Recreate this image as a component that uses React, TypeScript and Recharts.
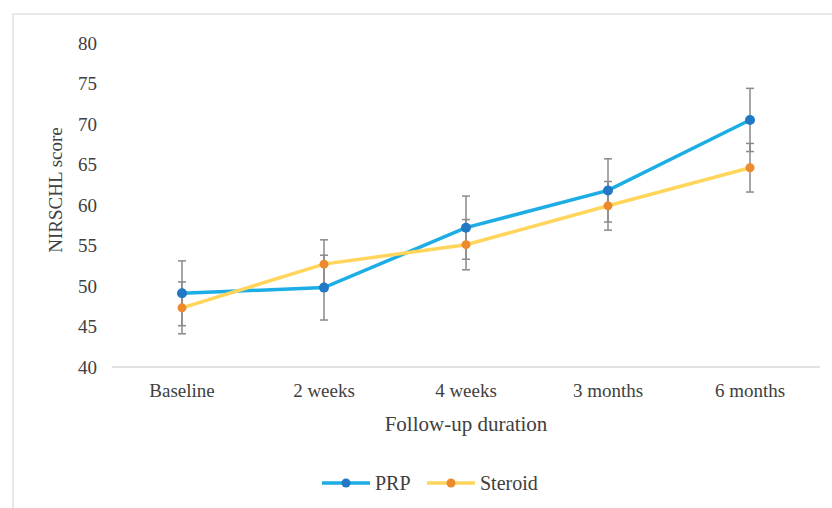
import React from "react";
import { LineChart, Line, XAxis, YAxis, ErrorBar, Legend } from "recharts";

const categories = ["Baseline", "2 weeks", "4 weeks", "3 months", "6 months"];
const prpValues = [49.1, 49.8, 57.2, 61.8, 70.5];
const prpErrors = [4.0, 4.0, 3.9, 3.9, 3.9];
const steroidValues = [47.3, 52.7, 55.1, 59.9, 64.6];
const steroidErrors = [3.2, 3.0, 3.1, 3.0, 3.0];
const yTicks = [40, 45, 50, 55, 60, 65, 70, 75, 80];
const seriesNames = ["PRP", "Steroid"];

const data = categories.map((c, i) => ({
  name: c,
  prp: prpValues[i],
  prpErr: prpErrors[i],
  steroid: steroidValues[i],
  steroidErr: steroidErrors[i],
}));

const FONT = "Liberation Serif, Times New Roman, serif";
const TEXT = "#404040";
const PRP_LINE = "#1CADE4";
const PRP_DOT = "#2178C4";
const STE_LINE = "#FFD55C";
const STE_DOT = "#EE8A2E";
const ERR = "#8A8A8A";

const LegendContent = () => {
  const items = [
    { label: seriesNames[0], line: PRP_LINE, dot: PRP_DOT, x: 322, tx: 375 },
    { label: seriesNames[1], line: STE_LINE, dot: STE_DOT, x: 427, tx: 480 },
  ];
  return (
    <svg width={832} height={26} style={{ display: "block" }}>
      {items.map((it) => (
        <g key={it.label}>
          <line x1={it.x} y1={13} x2={it.x + 48} y2={13} stroke={it.line} strokeWidth={3.5} />
          <circle cx={it.x + 24} cy={13} r={4.5} fill={it.dot} />
          <text x={it.tx} y={13} dy="0.35em" fontFamily={FONT} fontSize={20} fill={TEXT}>
            {it.label}
          </text>
        </g>
      ))}
    </svg>
  );
};

export default function App() {
  return (
    <div style={{ position: "absolute", left: 0, top: 0, width: 832, height: 508, background: "#fff" }}>
      <div
        style={{
          position: "absolute",
          left: 12,
          top: 13,
          width: 820,
          height: 495,
          borderTop: "2px solid #e8e8e8",
          borderLeft: "2px solid #e8e8e8",
          boxSizing: "border-box",
        }}
      />
      <LineChart
        width={832}
        height={508}
        data={data}
        margin={{ top: 43, right: 12, bottom: 12, left: 0 }}
        style={{ position: "absolute", left: 0, top: 0 }}
      >
        <XAxis
          dataKey="name"
          padding={{ left: 70, right: 70 }}
          height={103}
          axisLine={{ stroke: "#d9d9d9", strokeWidth: 1.5 }}
          tickLine={false}
          tickSize={6}
          tickMargin={11}
          tick={{ fontFamily: FONT, fontSize: 19, fill: TEXT }}
          label={{
            value: "Follow-up duration",
            position: "insideBottom",
            offset: 39,
            style: { fontFamily: FONT, fontSize: 21, fill: TEXT },
          }}
        />
        <YAxis
          domain={[40, 80]}
          ticks={yTicks}
          width={112}
          axisLine={false}
          tickLine={false}
          tickSize={6}
          tickMargin={9}
          tick={{ fontFamily: FONT, fontSize: 19, fill: TEXT }}
          label={{
            value: "NIRSCHL score",
            angle: -90,
            position: "insideLeft",
            offset: 55,
            dy: -15,
            style: { fontFamily: FONT, fontSize: 19, fill: TEXT, textAnchor: "middle" },
          }}
        />
        <Legend
          verticalAlign="bottom"
          height={26}
          wrapperStyle={{ left: 0, width: 832 }}
          content={<LegendContent />}
        />
        <Line
          type="linear"
          dataKey="prp"
          name={seriesNames[0]}
          stroke={PRP_LINE}
          strokeWidth={3.5}
          dot={{ r: 5, fill: PRP_DOT, stroke: PRP_DOT, strokeWidth: 0 }}
          isAnimationActive={false}
        >
          <ErrorBar dataKey="prpErr" width={4} stroke={ERR} strokeWidth={1.5} direction="y" />
        </Line>
        <Line
          type="linear"
          dataKey="steroid"
          name={seriesNames[1]}
          stroke={STE_LINE}
          strokeWidth={3.5}
          dot={{ r: 4.5, fill: STE_DOT, stroke: STE_DOT, strokeWidth: 0 }}
          isAnimationActive={false}
        >
          <ErrorBar dataKey="steroidErr" width={4} stroke={ERR} strokeWidth={1.5} direction="y" />
        </Line>
      </LineChart>
    </div>
  );
}
